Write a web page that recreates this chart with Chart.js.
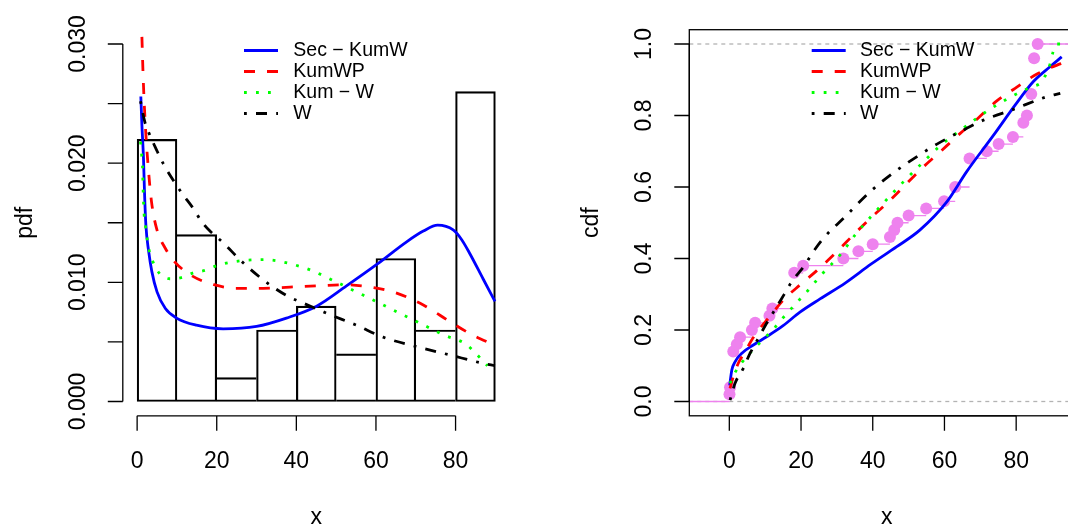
<!DOCTYPE html>
<html>
<head>
<meta charset="utf-8">
<script src="https://cdn.jsdelivr.net/npm/chart.js@4.4.1/dist/chart.umd.min.js"></script>
<style>
html,body{margin:0;padding:0;background:#fff;overflow:hidden;width:1068px;height:531px;}
#pdfChart{position:absolute;left:0;top:0;}
#cdfChart{position:absolute;left:534px;top:0;}
</style>
</head>
<body>
<canvas id="pdfChart" width="534" height="531"></canvas>
<canvas id="cdfChart" width="560" height="531"></canvas>
<script>

// ---------------------
// DATA
// ---------------------

const modelNames=["Sec \u2212 KumW","KumWP","Kum \u2212 W","W"];

// histogram (density, bins of width 10)
const binMids=[5,15,25,35,45,55,65,75,85];
const binDensity=[0.022,0.014,0.002,0.006,0.008,0.004,0.012,0.006,0.026];

// fitted pdf curves
const secKumW_pdfX=[0.93,1.2,1.6,1.85,2.2,2.9,3.7,5,7.1,9.9,14.9,21.6,30,37.5,45.1,52.6,60.2,67.7,71.9,75.5,79.4,81.5,83.6,86.9,89.9];
const secKumW_pdfY=[0.0256,0.0232,0.0204,0.0176,0.0148,0.0126,0.0109,0.0092,0.0078,0.0070,0.0064,0.0061,0.0063,0.0070,0.0080,0.0097,0.0115,0.0134,0.0143,0.0148,0.0144,0.0136,0.0124,0.0103,0.0084];

const kumWP_pdfX=[1.2,1.5,1.76,2.2,2.8,3.6,4.9,7,9.5,13.5,19.3,25,31.7,38.4,45.1,51.8,58.5,65.2,71.9,78.6,83.6,89.9];
const kumWP_pdfY=[0.0306,0.0274,0.0252,0.0224,0.0196,0.0168,0.0145,0.0129,0.0117,0.0106,0.0098,0.0095,0.0095,0.0096,0.0097,0.0098,0.0096,0.0091,0.0081,0.0067,0.0057,0.0047];

const kumW_pdfX=[0.85,1.1,1.35,1.5,1.76,2.1,2.5,3,4,5.5,8.2,11.1,14.2,17,20,25.8,32.1,38,43.8,49.6,55.1,60.6,66,71.5,76.9,82.6,86.9,88];
const kumW_pdfY=[0.0218,0.0208,0.0198,0.0178,0.0157,0.0147,0.0137,0.0127,0.0117,0.0108,0.0103,0.0104,0.0108,0.0110,0.0114,0.0118,0.0119,0.0116,0.0110,0.0101,0.0092,0.0083,0.0074,0.0065,0.0056,0.0048,0.0034,0.0030];

const w_pdfX=[0.85,1.9,3,4.9,6.5,9,11.2,14.1,16.2,18.3,20,22,25.8,31.7,37.5,42.1,48.4,55.1,61.8,70.2,78.6,86.9,89.9];
const w_pdfY=[0.0252,0.0235,0.0225,0.0211,0.0200,0.0186,0.0175,0.0162,0.0151,0.0143,0.0138,0.0132,0.0119,0.0102,0.0089,0.0082,0.0073,0.0064,0.0054,0.0046,0.0039,0.0032,0.0030];

// empirical cdf
const ecdfX=[0.05,0.2,1.1,2.1,3.0,6.3,7.2,11.2,12.0,18.1,20.6,31.8,36.0,40.0,44.8,46.0,46.9,50.0,54.9,59.9,63.0,67.0,71.8,75.1,79.1,82.0,83.0,84.2,85.0,86.0];
const ecdfY=[0.02,0.04,0.14,0.16,0.18,0.20,0.22,0.24,0.26,0.36,0.38,0.40,0.42,0.44,0.46,0.48,0.50,0.52,0.54,0.56,0.60,0.68,0.70,0.72,0.74,0.78,0.80,0.86,0.96,1.00];

// fitted cdf curves
const secKumW_cdfX=[0.1,0.7,1.6,3.5,6.7,10.4,15,19.7,25.3,32.4,39.5,46.7,53.2,60.7,66.2,73.7,79.7,84.8,89.5,92.7];
const secKumW_cdfY=[0.045,0.088,0.111,0.135,0.158,0.181,0.212,0.250,0.287,0.332,0.384,0.433,0.480,0.559,0.643,0.745,0.829,0.895,0.937,0.964];

const kumWP_cdfX=[0.2,1.1,2.5,4.4,6.25,8.6,10.9,15.1,19.7,24.4,30,34.6,39.3,44.4,49.5,54.2,59.3,64.4,69,74.6,79.7,85.8,91.4,93];
const kumWP_cdfY=[0.037,0.069,0.107,0.139,0.172,0.205,0.233,0.284,0.326,0.366,0.419,0.466,0.512,0.559,0.610,0.657,0.703,0.750,0.789,0.841,0.876,0.916,0.941,0.947];

const kumW_cdfX=[0.2,1.6,3.5,8.1,10.4,12.8,14.9,19.5,21.8,24,26.2,30.9,35.1,39.5,43.9,48.6,53.7,58.3,66.4,72.3,77.8,83.9,87.2,88.5,89.5,90.3,91.4,93];
const kumW_cdfY=[0.051,0.081,0.109,0.160,0.183,0.208,0.233,0.284,0.309,0.335,0.360,0.410,0.466,0.517,0.565,0.615,0.666,0.711,0.773,0.815,0.848,0.879,0.895,0.920,0.946,0.978,1.0,1.0];

const w_cdfX=[0.2,1.6,3.9,5.8,8.1,10.4,12.8,15.5,17.4,21.1,23,26.2,32.3,39.3,46.2,53.7,57.9,66.2,70.9,79.2,88.1,92.3];
const w_cdfY=[0.004,0.051,0.093,0.135,0.177,0.219,0.258,0.303,0.335,0.382,0.413,0.456,0.517,0.587,0.643,0.694,0.720,0.764,0.787,0.817,0.851,0.862];

// axes
const pdfXTicks=[0,20,40,60,80];
const pdfXLabels=["0","20","40","60","80"];
const pdfYTicks=[0,0.005,0.010,0.015,0.020,0.025,0.030];
const pdfYLabels=["0.000","","0.010","","0.020","","0.030"];
const cdfXTicks=[0,20,40,60,80];
const cdfXLabels=["0","20","40","60","80"];
const cdfYTicks=[0,0.2,0.4,0.6,0.8,1.0];
const cdfYLabels=["0.0","0.2","0.4","0.6","0.8","1.0"];
const cdfRefLines=[0,1];

const pdfXRange=[-3.6,93.6], pdfYRange=[-0.0012,0.0312];
const cdfXRange=[-11.16,99], cdfYRange=[-0.04,1.04];

// ---------------------
// STYLE
// ---------------------

const FONT='"Liberation Sans", Arial, Helvetica, sans-serif';
const LW=2.8;
const BW=1.5;
const curveStyle=[
    {color:"#0000ff",dash:[]},
    {color:"#ff0000",dash:[11,12]},
    {color:"#00ff00",dash:[2.8,9.2]},
    {color:"#000000",dash:[2.8,9.2,11,9.2]}
];

function pts(xs,ys){
    return xs.map((x,i)=>({x:x,y:ys[i]}));
}

function curve(i,xs,ys){
    return {
        type:"line",
        label:modelNames[i],
        data:pts(xs,ys),
        borderColor:curveStyle[i].color,
        borderWidth:LW,
        borderDash:curveStyle[i].dash,
        pointRadius:0,
        fill:false,
        cubicInterpolationMode:"monotone",
        order:4-i
    };
}

// each shared edge is drawn once, by the taller of the two bars
function barBorders(h){
    return h.map((v,i)=>({
        top:BW,
        bottom:BW,
        left:(i===0||v>=h[i-1])?BW:0,
        right:(i===h.length-1||v>h[i+1])?BW:0
    }));
}

// R style axes, titles and legend
const rStyle={
    id:"rStyle",
    beforeDatasetsDraw(chart,args,o){
        if(!o.refLines) return;
        const ctx=chart.ctx, a=chart.chartArea, ys=chart.scales.y;
        ctx.save();
        ctx.strokeStyle="#b3b3b3";
        ctx.lineWidth=1.3;
        ctx.setLineDash([4,4]);
        o.refLines.forEach(v=>{
            const p=ys.getPixelForValue(v);
            ctx.beginPath();
            ctx.moveTo(a.left,p);
            ctx.lineTo(a.right,p);
            ctx.stroke();
        });
        ctx.restore();
    },
    afterDraw(chart,args,o){
        const ctx=chart.ctx, a=chart.chartArea, xs=chart.scales.x, ys=chart.scales.y;
        ctx.save();
        ctx.strokeStyle="#000";
        ctx.fillStyle="#000";
        ctx.lineWidth=1.3;
        ctx.setLineDash([]);

        if(o.box){
            ctx.strokeRect(a.left,a.top,a.right-a.left,a.bottom-a.top);
        }

        ctx.beginPath();
        ctx.moveTo(a.left,ys.getPixelForValue(o.yTicks[0]));
        ctx.lineTo(a.left,ys.getPixelForValue(o.yTicks[o.yTicks.length-1]));
        o.yTicks.forEach(v=>{
            const p=ys.getPixelForValue(v);
            ctx.moveTo(a.left,p);
            ctx.lineTo(a.left-15,p);
        });
        ctx.moveTo(xs.getPixelForValue(o.xTicks[0]),a.bottom);
        ctx.lineTo(xs.getPixelForValue(o.xTicks[o.xTicks.length-1]),a.bottom);
        o.xTicks.forEach(v=>{
            const p=xs.getPixelForValue(v);
            ctx.moveTo(p,a.bottom);
            ctx.lineTo(p,a.bottom+15);
        });
        ctx.stroke();

        ctx.font="23px "+FONT;
        ctx.textAlign="center";
        ctx.textBaseline="middle";
        o.xTicks.forEach((v,i)=>{
            ctx.fillText(o.xLabels[i],xs.getPixelForValue(v),a.bottom+45.5);
        });
        o.yTicks.forEach((v,i)=>{
            if(!o.yLabels[i]) return;
            ctx.save();
            ctx.translate(a.left-44.5,ys.getPixelForValue(v));
            ctx.rotate(-Math.PI/2);
            ctx.fillText(o.yLabels[i],0,0);
            ctx.restore();
        });

        ctx.fillText(o.xTitle,(a.left+a.right)/2,a.bottom+102);
        ctx.save();
        ctx.translate(a.left-97.5,(a.top+a.bottom)/2);
        ctx.rotate(-Math.PI/2);
        ctx.fillText(o.yTitle,0,0);
        ctx.restore();

        // legend
        const L=o.legend;
        ctx.font="19.5px "+FONT;
        ctx.textAlign="left";
        modelNames.forEach((name,i)=>{
            const ds=chart.data.datasets.find(d=>d.label===name);
            const y=L.top+i*L.step;
            ctx.save();
            ctx.strokeStyle=ds.borderColor;
            ctx.lineWidth=ds.borderWidth;
            ctx.setLineDash(ds.borderDash);
            ctx.beginPath();
            ctx.moveTo(a.left+L.x0,y);
            ctx.lineTo(a.left+L.x1,y);
            ctx.stroke();
            ctx.restore();
            ctx.fillText(name,a.left+L.tx,y);
        });

        ctx.restore();
    }
};

function scalesFor(xr,yr){
    return {
        x:{type:"linear",min:xr[0],max:xr[1],display:false,offset:false,ticks:{stepSize:10,includeBounds:false}},
        y:{type:"linear",min:yr[0],max:yr[1],display:false}
    };
}

// ---------------------
// PDF PANEL
// ---------------------

function renderPdf(){

    const hist={
        type:"bar",
        data:binMids.map((m,i)=>({x:m,y:binDensity[i]})),
        backgroundColor:"rgba(0,0,0,0)",
        borderColor:"#000",
        borderWidth:barBorders(binDensity),
        borderSkipped:false,
        barPercentage:1,
        categoryPercentage:1,
        order:10
    };

    new Chart(document.getElementById("pdfChart"),{
        type:"line",
        data:{
            datasets:[
                hist,
                curve(0,secKumW_pdfX,secKumW_pdfY),
                curve(1,kumWP_pdfX,kumWP_pdfY),
                curve(2,kumW_pdfX,kumW_pdfY),
                curve(3,w_pdfX,w_pdfY)
            ]
        },
        options:{
            responsive:false,
            animation:false,
            devicePixelRatio:1,
            events:[],
            layout:{padding:{left:122.8,right:24.3,top:29.7,bottom:115.2}},
            scales:scalesFor(pdfXRange,pdfYRange),
            plugins:{
                legend:{display:false},
                tooltip:{enabled:false},
                rStyle:{
                    box:false,
                    xTicks:pdfXTicks,xLabels:pdfXLabels,
                    yTicks:pdfYTicks,yLabels:pdfYLabels,
                    xTitle:"x",yTitle:"pdf",
                    legend:{x0:121.2,x1:155.2,tx:170.5,top:50.5,step:21}
                }
            }
        },
        plugins:[rStyle]
    });
}

// ---------------------
// CDF PANEL
// ---------------------

function renderCdf(){

    // horizontal steps of the empirical cdf
    const steps=[{x:cdfXRange[0],y:0},{x:ecdfX[0],y:0},{x:ecdfX[0],y:null}];
    ecdfX.forEach((x,i)=>{
        const next=i<ecdfX.length-1?ecdfX[i+1]:cdfXRange[1];
        steps.push({x:x,y:ecdfY[i]},{x:next,y:ecdfY[i]},{x:next,y:null});
    });

    new Chart(document.getElementById("cdfChart"),{
        type:"line",
        data:{
            datasets:[
                {
                    type:"line",
                    data:steps,
                    borderColor:"#ee82ee",
                    borderWidth:1.3,
                    pointRadius:0,
                    spanGaps:false,
                    tension:0,
                    order:20
                },
                {
                    type:"line",
                    data:pts(ecdfX,ecdfY),
                    showLine:false,
                    pointRadius:6,
                    pointBackgroundColor:"#ee82ee",
                    pointBorderColor:"#ee82ee",
                    pointBorderWidth:0,
                    order:19
                },
                curve(0,secKumW_cdfX,secKumW_cdfY),
                curve(1,kumWP_cdfX,kumWP_cdfY),
                curve(2,kumW_cdfX,kumW_cdfY),
                curve(3,w_cdfX,w_cdfY)
            ]
        },
        options:{
            responsive:false,
            animation:false,
            devicePixelRatio:1,
            events:[],
            layout:{padding:{left:155.3,right:9.7,top:29.7,bottom:115.2}},
            scales:scalesFor(cdfXRange,cdfYRange),
            plugins:{
                legend:{display:false},
                tooltip:{enabled:false},
                rStyle:{
                    box:true,
                    refLines:cdfRefLines,
                    xTicks:cdfXTicks,xLabels:cdfXLabels,
                    yTicks:cdfYTicks,yLabels:cdfYLabels,
                    xTitle:"x",yTitle:"cdf",
                    legend:{x0:122.4,x1:156.4,tx:170.7,top:50.5,step:21}
                }
            }
        },
        plugins:[rStyle]
    });
}

renderPdf();
renderCdf();

</script>
</body>
</html>
